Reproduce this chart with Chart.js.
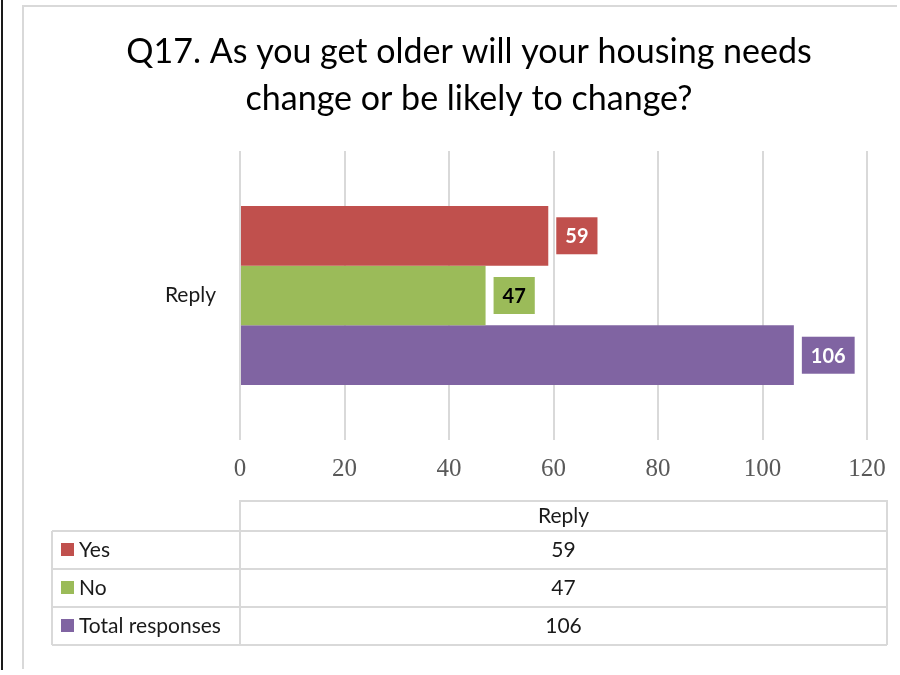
<!DOCTYPE html>
<html>
<head>
<meta charset="utf-8">
<script src="https://cdn.jsdelivr.net/npm/chart.js@4.4.1/dist/chart.umd.min.js"></script>
<style>
    html, body { margin: 0; padding: 0; background: #ffffff; }
    #wrap { width: 900px; height: 675px; position: relative; }
</style>
</head>
<body>
<div id="wrap"><canvas id="housingChart" width="900" height="675"></canvas></div>
<script>
// Data
const categories = ['Reply'];
const seriesNames = ['Yes', 'No', 'Total responses'];
const yesValues = [59];
const noValues = [47];
const totalValues = [106];
const xTickValues = [0, 20, 40, 60, 80, 100, 120];
const titleLines = ['Q17. As you get older will your housing needs', 'change or be likely to change?'];

const FONT = 'Lato, "Open Sans", "Noto Sans", sans-serif';
const SERIF = '"Liberation Serif", "DejaVu Serif", serif';

// Frame lines around the chart (left black rule + light chart border)
const framePlugin = {
    id: 'frame',
    beforeDraw(chart) {
        const ctx = chart.ctx;
        ctx.save();
        ctx.fillStyle = '#ffffff';
        ctx.fillRect(0, 0, chart.width, chart.height);
        ctx.strokeStyle = '#1a1a1a';
        ctx.lineWidth = 2;
        ctx.beginPath();
        ctx.moveTo(2, 0);
        ctx.lineTo(2, 670);
        ctx.stroke();
        ctx.strokeStyle = '#d9d9d9';
        ctx.lineWidth = 2;
        ctx.beginPath();
        ctx.moveTo(23, 669);
        ctx.lineTo(23, 6);
        ctx.lineTo(897, 6);
        ctx.stroke();
        ctx.restore();
    }
};

// Two-line title, centred on the plot like the original
const titlePlugin = {
    id: 'bigTitle',
    afterDraw(chart) {
        const ctx = chart.ctx;
        ctx.save();
        ctx.fillStyle = '#000000';
        ctx.font = '34px ' + FONT;
        ctx.textAlign = 'center';
        ctx.textBaseline = 'alphabetic';
        titleLines.forEach((line, i) => {
            ctx.fillText(line, 469, 63 + i * 47);
        });
        ctx.restore();
    }
};

// Value boxes to the right of each bar
const valueBoxPlugin = {
    id: 'valueBoxes',
    afterDatasetsDraw(chart) {
        const ctx = chart.ctx;
        ctx.save();
        ctx.font = 'bold 20px ' + FONT;
        ctx.textAlign = 'center';
        ctx.textBaseline = 'middle';
        chart.data.datasets.forEach((ds, i) => {
            const meta = chart.getDatasetMeta(i);
            meta.data.forEach((bar, j) => {
                const text = String(ds.data[j]);
                const w = ctx.measureText(text).width + 18;
                const h = 37;
                const x0 = bar.x + 8;
                ctx.fillStyle = ds.backgroundColor;
                ctx.fillRect(x0, bar.y - h / 2, w, h);
                ctx.fillStyle = ds.labelColor;
                ctx.fillText(text, x0 + w / 2, bar.y + 1);
            });
        });
        ctx.restore();
    }
};

// Data table under the axis
const dataTablePlugin = {
    id: 'dataTable',
    afterDraw(chart) {
        const ctx = chart.ctx;
        const left = 52;
        const mid = chart.chartArea.left;
        const right = chart.chartArea.right + 20;
        const headTop = 501;
        const rowTop = 531;
        const rowH = 38;
        const datasets = chart.data.datasets;
        const bottom = rowTop + rowH * datasets.length;
        const colCenter = (mid + right) / 2;

        ctx.save();
        ctx.strokeStyle = '#d9d9d9';
        ctx.lineWidth = 2;
        ctx.beginPath();
        // header cell
        ctx.moveTo(mid, bottom);
        ctx.lineTo(mid, headTop);
        ctx.lineTo(right, headTop);
        ctx.lineTo(right, bottom);
        // rows
        for (let r = 0; r <= datasets.length; r++) {
            const y = rowTop + r * rowH;
            ctx.moveTo(left, y);
            ctx.lineTo(right, y);
        }
        ctx.moveTo(left, rowTop);
        ctx.lineTo(left, bottom);
        ctx.stroke();

        ctx.fillStyle = '#1a1a1a';
        ctx.font = '21px ' + FONT;
        ctx.textBaseline = 'middle';
        ctx.textAlign = 'center';
        ctx.fillText(chart.data.labels[0], colCenter, headTop + 15);

        datasets.forEach((ds, i) => {
            const cy = rowTop + i * rowH + rowH / 2;
            ctx.fillStyle = ds.backgroundColor;
            ctx.fillRect(61, cy - 7, 13, 13);
            ctx.fillStyle = '#1a1a1a';
            ctx.textAlign = 'left';
            ctx.fillText(ds.label, 79, cy);
            ctx.textAlign = 'center';
            ctx.fillText(String(ds.data[0]), colCenter, cy);
        });
        ctx.restore();
    }
};

const ctx = document.getElementById('housingChart').getContext('2d');
new Chart(ctx, {
    type: 'bar',
    data: {
        labels: categories,
        datasets: [
            { label: seriesNames[0], data: yesValues, backgroundColor: '#C0504D', labelColor: '#ffffff' },
            { label: seriesNames[1], data: noValues, backgroundColor: '#9BBB59', labelColor: '#000000' },
            { label: seriesNames[2], data: totalValues, backgroundColor: '#8064A2', labelColor: '#ffffff' }
        ]
    },
    options: {
        indexAxis: 'y',
        responsive: false,
        animation: false,
        devicePixelRatio: 1,
        categoryPercentage: 0.62,
        barPercentage: 1.0,
        layout: {
            padding: { left: 23, right: 33, top: 151, bottom: 185 }
        },
        plugins: {
            legend: { display: false },
            tooltip: { enabled: false },
            title: { display: false }
        },
        scales: {
            x: {
                min: 0,
                max: 120,
                afterBuildTicks(axis) {
                    axis.ticks = xTickValues.map(v => ({ value: v }));
                },
                afterFit(axis) {
                    axis.height = 50;
                },
                grid: {
                    color: '#d9d9d9',
                    lineWidth: 2,
                    drawTicks: false
                },
                border: { display: false },
                ticks: {
                    color: '#595959',
                    padding: 14,
                    font: { family: SERIF, size: 25 }
                }
            },
            y: {
                afterFit(axis) {
                    axis.width = 240 - 23;
                },
                grid: { display: false, drawTicks: false },
                border: { display: false },
                ticks: {
                    color: '#1a1a1a',
                    padding: 24,
                    font: { family: FONT, size: 21 }
                }
            }
        }
    },
    plugins: [framePlugin, titlePlugin, valueBoxPlugin, dataTablePlugin]
});
</script>
</body>
</html>
